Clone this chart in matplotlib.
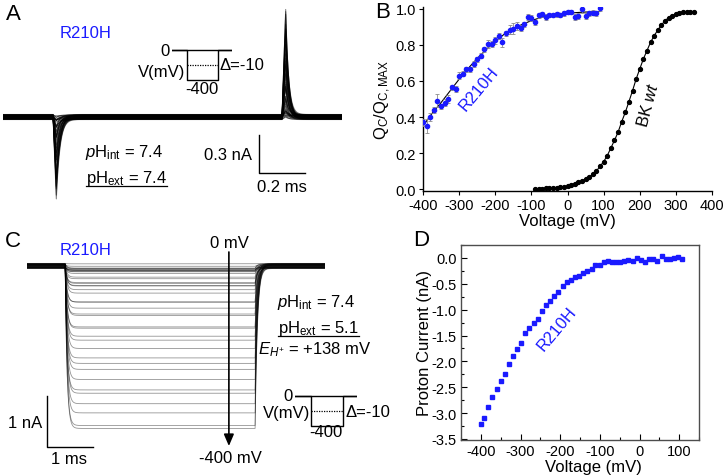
import numpy as np
import matplotlib
matplotlib.use("Agg")
import matplotlib.pyplot as plt
from matplotlib.ticker import MultipleLocator, FormatStrFormatter
from matplotlib.lines import Line2D

plt.rcParams['font.family'] = ['Liberation Sans', 'DejaVu Sans']
plt.rcParams['mathtext.fontset'] = 'custom'
plt.rcParams['mathtext.rm'] = 'Liberation Sans'
plt.rcParams['mathtext.it'] = 'Liberation Sans:italic'
plt.rcParams['mathtext.bf'] = 'Liberation Sans:bold'
plt.rcParams['axes.unicode_minus'] = False

# ---------------- data ----------------
# Panel B: R210H normalised gating charge
r210h_v = list(range(-400, 100, 10))
r210h_q = [0.37, 0.35, 0.40, 0.44, 0.49, 0.46, 0.48, 0.50, 0.565, 0.555,
           0.63, 0.64, 0.665, 0.665, 0.695, 0.72, 0.74, 0.775, 0.805, 0.805,
           0.825, 0.85, 0.815, 0.865, 0.885, 0.89, 0.905, 0.895, 0.915, 0.955,
           0.95, 0.925, 0.965, 0.97, 0.955, 0.965, 0.965, 0.97, 0.965, 0.975,
           0.985, 0.985, 0.955, 0.96, 1.0, 0.96, 0.975, 0.98, 0.975, 1.005]
r210h_err = [0.02, 0.04, 0.02, 0.015, 0.035, 0.015, 0.02, 0.02, 0.015, 0.015,
             0.02, 0.015, 0.015, 0.015, 0.015, 0.015, 0.015, 0.015, 0.02, 0.015,
             0.02, 0.015, 0.025, 0.015, 0.025, 0.03, 0.02, 0.015, 0.015, 0.015,
             0.015, 0.015, 0.015, 0.015, 0.015, 0.012, 0.012, 0.012, 0.012, 0.012,
             0.012, 0.012, 0.015, 0.015, 0.02, 0.015, 0.015, 0.015, 0.015, 0.015]
r210h_fit_v = [-400, -375, -350, -325, -300, -275, -250, -225, -200, -175,
               -150, -125, -100, -75, -50, -25, 0, 25, 50, 75, 90]
r210h_fit_q = [0.35, 0.42, 0.48, 0.545, 0.61, 0.67, 0.725, 0.775, 0.82, 0.86,
               0.89, 0.915, 0.935, 0.952, 0.963, 0.97, 0.976, 0.98, 0.983, 0.985, 0.986]
# Panel B: BK wt
bk_v = list(range(-90, 360, 10))
bk_q = [0.0, 0.0, 0.002, 0.003, 0.005, 0.006, 0.008, 0.009, 0.012, 0.016,
        0.022, 0.03, 0.037, 0.045, 0.055, 0.066, 0.082, 0.1, 0.126, 0.152,
        0.185, 0.228, 0.27, 0.316, 0.374, 0.426, 0.485, 0.546, 0.611, 0.667,
        0.722, 0.769, 0.815, 0.852, 0.883, 0.911, 0.935, 0.952, 0.963, 0.972,
        0.978, 0.981, 0.985, 0.984, 0.982]
# Panel D: proton current
d_v = [-400, -392, -381, -371, -360, -350, -340, -329, -319, -308,
       -298, -288, -278, -267, -256, -246, -236, -225, -215, -205,
       -194, -184, -173, -163, -153, -142, -132, -121, -111, -100,
       -90, -80, -69, -59, -49, -38, -28, -17, -7, 3,
       14, 24, 35, 45, 56, 66, 77, 87, 97, 108]
d_i = [-3.21, -3.09, -2.89, -2.68, -2.54, -2.38, -2.24, -2.06, -1.90, -1.76,
       -1.64, -1.46, -1.35, -1.26, -1.18, -1.02, -0.91, -0.83, -0.735, -0.66,
       -0.55, -0.46, -0.43, -0.36, -0.35, -0.29, -0.25, -0.21, -0.135, -0.135,
       -0.084, -0.058, -0.07, -0.084, -0.084, -0.064, -0.032, -0.064, -0.006, -0.045,
       -0.084, -0.026, -0.026, -0.064, 0.032, -0.019, -0.019, -0.006, 0.019, -0.019]
# Panel A/C step voltages and small baseline offsets of the recorded traces
step_v = list(range(0, -410, -10))
trace_jitter = [0.010, -0.015, 0.004, -0.008, 0.018, -0.020, 0.006, 0.013, -0.004, -0.017,
                0.009, 0.002, -0.011, 0.016, -0.006, 0.020, -0.013, 0.001, 0.011, -0.019,
                0.007, -0.002, 0.015, -0.009, 0.003, -0.014, 0.012, -0.016, 0.008, -0.005,
                0.017, -0.012, 0.005, -0.001, 0.014, -0.018, 0.010, -0.007, 0.019, -0.010, 0.000]
on_scale_nA = 1.0     # nA per unit of normalised charge (ON transient)
off_scale_nA = 1.35   # nA per unit of normalised charge (OFF transient)
# protocol schematic
prot_t = [0, 0.25, 0.25, 0.77, 0.77, 1.0]
prot_v = [0, 0, -400, -400, 0, 0]
hold_t = [0, 1.0]
hold_v = [0, 0]
mid_t = [0.25, 0.77]
mid_v = [-200, -200]

BLUE = '#1a1aff'
W, H = 727, 477
fig = plt.figure(figsize=(W / 100, H / 100), dpi=100)


def px_axes(x0, y0, x1, y1, **kw):
    return fig.add_axes([x0 / W, 1 - y1 / H, (x1 - x0) / W, (y1 - y0) / H], **kw)


def ftext(x, y, s, **kw):
    kw.setdefault('va', 'center')
    return fig.text(x / W, 1 - y / H, s, **kw)


def spike(t, t0, rise, tau):
    out = np.zeros_like(t)
    m1 = (t >= t0) & (t < t0 + rise)
    out[m1] = (t[m1] - t0) / rise
    m2 = t >= t0 + rise
    out[m2] = np.exp(-(t[m2] - t0 - rise) / tau)
    return out


def pulse(t, T, tau_on, tau_off):
    out = np.zeros_like(t)
    m = (t >= 0) & (t < T)
    out[m] = 1 - np.exp(-t[m] / tau_on)
    end = 1 - np.exp(-T / tau_on)
    m2 = t >= T
    out[m2] = end * np.exp(-(t[m2] - T) / tau_off)
    return out


def protocol_inset(x0, y0, x1, y1):
    ax = px_axes(x0, y0, x1, y1)
    ax.plot(hold_t, hold_v, color='k', lw=1.0)
    ax.plot(prot_t, prot_v, color='k', lw=1.0)
    ax.plot(mid_t, mid_v, color='k', lw=0.9, ls=(0, (1.0, 1.0)))
    ax.set_xlim(0, 1)
    ax.set_ylim(-453, 53)
    ax.axis('off')
    return ax


q_lookup = dict(zip(r210h_v, r210h_q))
q0 = q_lookup[0]

# ---------------- Panel A ----------------
axA = px_axes(3, 5, 342, 205)
tA = np.arange(-0.22, 1.256, 0.001)
on_shape = spike(tA, -0.002, 0.014, 0.016)
off_shape = spike(tA, 0.994, 0.016, 0.013)
for k, v in enumerate(step_v):
    dq = max(q0 - q_lookup[v], 0.0)
    iA = -on_scale_nA * dq * on_shape + off_scale_nA * dq * off_shape + trace_jitter[k]
    axA.plot(tA, iA, color='k', lw=0.75, alpha=0.5)
# scale bar 0.3 nA / 0.2 ms
axA.plot([0.894, 0.894, 1.094], [-0.141, -0.441, -0.441], color='k', lw=1.0)
axA.set_xlim(-0.22, 1.255)
axA.set_ylim(-0.685, 0.89)
axA.axis('off')
protocol_inset(172, 47, 232, 85)

ftext(13, 14, 'A', fontsize=16, ha='center')
ftext(86, 34, 'R210H', fontsize=12, color=BLUE, ha='center')
ftext(170, 51, '0', fontsize=12, ha='right')
ftext(185, 72, 'V(mV)', fontsize=12, ha='right')
ftext(202, 90, '-400', fontsize=12, ha='center')
ftext(220, 66, '\u0394=-10', fontsize=12, ha='left')
ftext(85, 153, r'$\it{p}$H$_{\rm int}$ = 7.4', fontsize=12, ha='left')
txA_ext = ftext(86, 178, r'pH$_{\rm ext}$ = 7.4', fontsize=12, ha='left')
ftext(252, 155, '0.3 nA', fontsize=12, ha='right')
ftext(282, 188, '0.2 ms', fontsize=12, ha='center')

# ---------------- Panel B ----------------
axB = px_axes(423, 8, 712, 192)
axB.plot(r210h_fit_v, r210h_fit_q, color='k', lw=0.8, zorder=2)
axB.errorbar(r210h_v, r210h_q, yerr=r210h_err, fmt='o', ms=3.0, color=BLUE,
             mec=BLUE, ecolor='0.55', elinewidth=0.6, capsize=1.6, capthick=0.6, zorder=3)
axB.plot(bk_v, bk_q, color='k', lw=0.8, marker='o', ms=2.8, zorder=3)
axB.set_xlim(-400, 400)
axB.set_ylim(-0.011, 1.011)
axB.xaxis.set_major_locator(MultipleLocator(100))
axB.yaxis.set_major_locator(MultipleLocator(0.2))
axB.yaxis.set_major_formatter(FormatStrFormatter('%.1f'))
for s in ['top', 'right']:
    axB.spines[s].set_visible(False)
for s in ['left', 'bottom']:
    axB.spines[s].set_linewidth(1.0)
axB.tick_params(direction='out', length=3, width=0.8, labelsize=10.5, pad=2)
axB.set_xlabel('Voltage (mV)', fontsize=12, labelpad=1)
axB.set_ylabel(r'Q$_{\rm C}$/Q$_{\rm C,MAX}$', fontsize=12, labelpad=2)
axB.text(-245, 0.56, 'R210H', fontsize=12, color=BLUE, rotation=50,
         ha='center', va='center')
axB.text(222, 0.47, r'BK $\it{wt}$', fontsize=12, color='k', rotation=75,
         ha='center', va='center')
ftext(383, 12, 'B', fontsize=16, ha='center')

# ---------------- Panel C ----------------
axC = px_axes(27, 245, 325, 470)
tC = np.arange(-0.83, 5.65, 0.005)
shapeC = pulse(tC, 4.13, 0.04, 0.05)
c_amps = [i for v, i in zip(d_v, d_i) if v <= 5]
for k, amp in enumerate(c_amps):
    iC = amp * shapeC + 2.5 * trace_jitter[k]
    axC.plot(tC, iC, color='k', lw=0.6, alpha=0.42)
axC.plot([-0.395, -0.395, 0.605], [-2.55, -3.55, -3.55], color='k', lw=1.0)
axC.annotate('', xy=(3.56, -3.53), xytext=(3.56, 0.273),
             arrowprops=dict(arrowstyle='-|>,head_length=0.7,head_width=0.3',
                             color='k', lw=1.2, shrinkA=0, shrinkB=0))
axC.set_xlim(-0.83, 5.65)
axC.set_ylim(-3.98, 0.43)
axC.axis('off')
protocol_inset(295, 393, 357, 431)

ftext(13, 242, 'C', fontsize=16, ha='center')
ftext(86, 251, 'R210H', fontsize=12, color=BLUE, ha='center')
ftext(229, 244, '0 mV', fontsize=12, ha='center')
ftext(230, 459, '-400 mV', fontsize=12, ha='center')
ftext(42, 424, '1 nA', fontsize=12, ha='right')
ftext(69, 460, '1 ms', fontsize=12, ha='center')
ftext(277, 302, r'$\it{p}$H$_{\rm int}$ = 7.4', fontsize=12, ha='left')
txC_ext = ftext(278, 328, r'pH$_{\rm ext}$ = 5.1', fontsize=12, ha='left')
ftext(258, 350, r'$E_{H^{+}}$ = +138 mV', fontsize=12, ha='left')
ftext(293, 397, '0', fontsize=12, ha='right')
ftext(310, 414, 'V(mV)', fontsize=12, ha='right')
ftext(326, 433, '-400', fontsize=12, ha='center')
ftext(345, 413, '\u0394=-10', fontsize=12, ha='left')

# ---------------- Panel D ----------------
axD = px_axes(461, 246, 699, 441)
axD.plot(d_v, d_i, ls='none', marker='s', ms=3.3, color=BLUE, mec=BLUE)
axD.set_xlim(-450, 150)
axD.set_ylim(-3.52, 0.25)
axD.xaxis.set_major_locator(MultipleLocator(100))
axD.xaxis.set_minor_locator(MultipleLocator(50))
axD.yaxis.set_major_locator(MultipleLocator(0.5))
axD.yaxis.set_minor_locator(MultipleLocator(0.25))
axD.yaxis.set_major_formatter(FormatStrFormatter('%.1f'))
for s in axD.spines.values():
    s.set_linewidth(1.0)
    s.set_color('0.3')
axD.tick_params(which='both', direction='in', width=0.8, labelsize=10.5, pad=3)
axD.tick_params(which='major', length=4)
axD.tick_params(which='minor', length=2)
axD.set_xlabel('Voltage (mV)', fontsize=12, labelpad=0)
axD.xaxis.set_label_coords(0.555, -0.097)
axD.set_ylabel('Proton Current (nA)', fontsize=12, labelpad=0)
axD.text(-208, -1.35, 'R210H', fontsize=12, color=BLUE, rotation=50,
         ha='center', va='center')
ftext(421, 241, 'D', fontsize=16, ha='center')

# underline the pH_ext annotations
fig.canvas.draw()
renderer = fig.canvas.get_renderer()
for txt in (txA_ext, txC_ext):
    bb = txt.get_window_extent(renderer)
    y = (bb.y0 + 1) / H
    fig.add_artist(Line2D([bb.x0 / W, bb.x1 / W], [y, y], color='k', lw=0.9,
                          transform=fig.transFigure))

fig.savefig('out.png', dpi=100)
